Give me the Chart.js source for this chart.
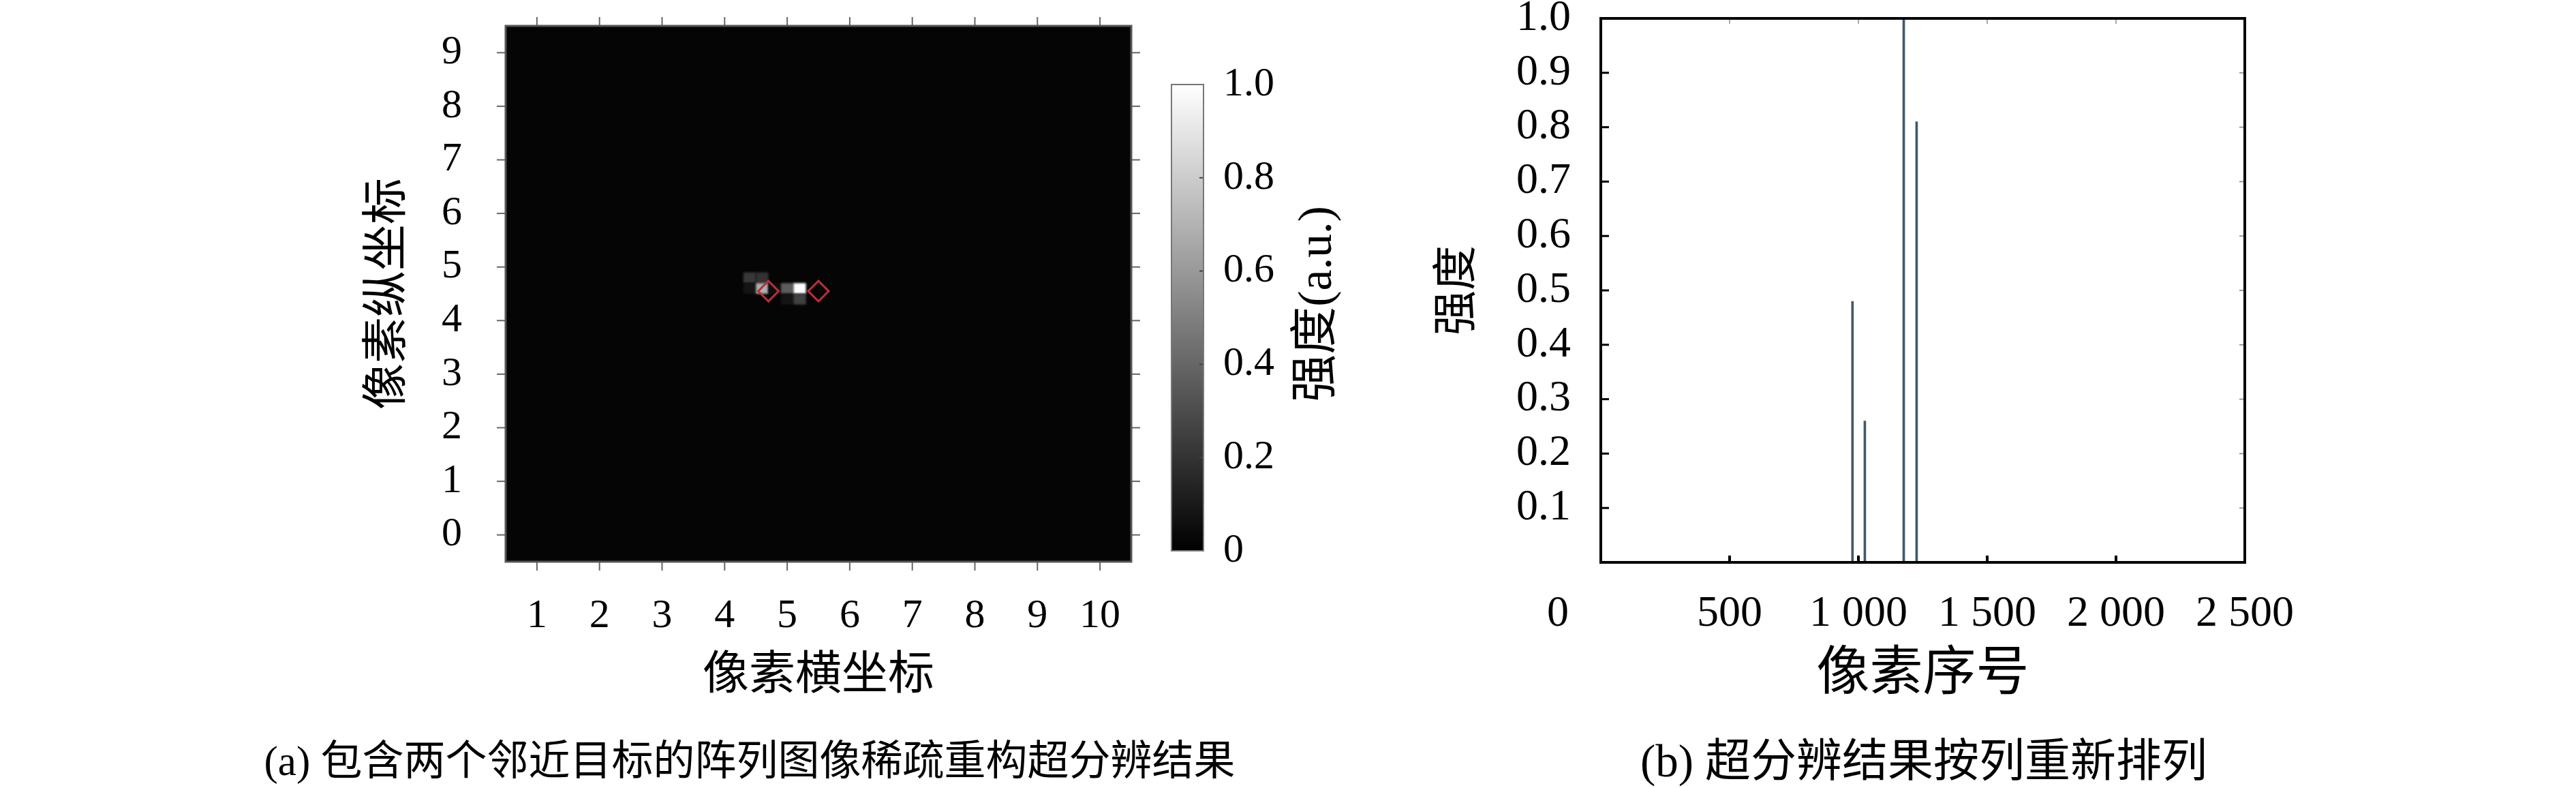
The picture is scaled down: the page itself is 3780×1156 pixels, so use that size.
<!DOCTYPE html>
<html>
<head>
<meta charset="utf-8">
<script src="https://cdn.jsdelivr.net/npm/chart.js@4.4.1/dist/chart.umd.min.js"></script>
<style>
  html, body { margin: 0; padding: 0; background: #fff; }
  body { width: 3780px; height: 1156px; position: relative; overflow: hidden;
         font-family: "Liberation Serif", "Noto Sans CJK SC", serif; }
  canvas { position: absolute; top: 0; }
  .caption { position: absolute; line-height: 1; white-space: nowrap;
             transform: translateX(-50%); color: #000; }
</style>
</head>
<body>
<canvas id="mapChart" width="1200" height="1060" style="left:500px"></canvas>
<canvas id="barChart" width="350" height="1060" style="left:1700px"></canvas>
<canvas id="seqChart" width="1350" height="1060" style="left:2050px"></canvas>
<div class="caption" style="left:1100px;top:1086px;font-size:61px">(a) 包含两个邻近目标的阵列图像稀疏重构超分辨结果</div>
<div class="caption" style="left:2823px;top:1083px;font-size:67px">(b) 超分辨结果按列重新排列</div>

<script>
const FONT = '"Liberation Serif", "Noto Sans CJK SC", serif';

// (a) reconstructed image: 50 x 50 cells over the 10 x 10 pixel array, zero elsewhere
const mapXTicks = [1, 2, 3, 4, 5, 6, 7, 8, 9, 10];
const mapYTicks = [0, 1, 2, 3, 4, 5, 6, 7, 8, 9];
const cellSize = 0.2;
const cellX = [4.4, 4.6, 4.4, 4.6, 4.8, 5.0, 5.2, 5.0, 5.2];
const cellY = [4.8, 4.8, 4.6, 4.6, 4.6, 4.6, 4.6, 4.4, 4.4];
const cellValue = [0.22, 0.2, 0.08, 0.68, 0.05, 0.36, 1.0, 0.08, 0.25];
const targetX = [4.7, 5.5];
const targetY = [4.55, 4.55];

// colour bar
const barTicks = [0, 0.2, 0.4, 0.6, 0.8, 1.0];
const barTickLabels = ['0', '0.2', '0.4', '0.6', '0.8', '1.0'];

// (b) intensities sorted by pixel index
const pixelIndex = [977, 1025, 1176, 1226];
const intensity = [0.48, 0.26, 1.0, 0.81];
const seqTicks = [0, 500, 1000, 1500, 2000, 2500];
const seqTickLabels = ['', '500', '1 000', '1 500', '2 000', '2 500'];
const intensityTicks = [0.1, 0.2, 0.3, 0.4, 0.5, 0.6, 0.7, 0.8, 0.9, 1.0];
const intensityTickLabels = ['0.1', '0.2', '0.3', '0.4', '0.5', '0.6', '0.7', '0.8', '0.9', '1.0'];

function grey(v) {
    const g = Math.round(v * 255);
    return `rgb(${g},${g},${g})`;
}

function fixBox(size) {
    return s => {
        if (s.isHorizontal()) s.height = size; else s.width = size;
        s.paddingTop = s.paddingBottom = s.paddingLeft = s.paddingRight = 0;
    };
}

function frameWithTicks(frame, sides) {
    return {
        id: 'frameWithTicks',
        afterDraw(chart) {
            const { ctx, chartArea: a, scales } = chart;
            ctx.save();
            sides.forEach(s => {
                const scale = scales[s.axis];
                ctx.strokeStyle = s.color;
                ctx.lineWidth = s.width;
                scale.ticks.forEach(t => {
                    if (t.value <= scale.min || t.value >= scale.max) return;
                    const p = scale.getPixelForValue(t.value);
                    ctx.beginPath();
                    if (s.side === 'bottom') { ctx.moveTo(p, a.bottom); ctx.lineTo(p, a.bottom + s.len); }
                    if (s.side === 'top') { ctx.moveTo(p, a.top); ctx.lineTo(p, a.top - s.len); }
                    if (s.side === 'left') { ctx.moveTo(a.left, p); ctx.lineTo(a.left - s.len, p); }
                    if (s.side === 'right') { ctx.moveTo(a.right, p); ctx.lineTo(a.right + s.len, p); }
                    ctx.stroke();
                });
            });
            ctx.strokeStyle = frame.color;
            ctx.lineWidth = frame.width;
            ctx.strokeRect(a.left, a.top, a.width, a.height);
            ctx.restore();
        }
    };
}

const mapCells = {
    id: 'mapCells',
    beforeDatasetsDraw(chart) {
        const { ctx, chartArea: a, scales: { x, y } } = chart;
        ctx.save();
        ctx.fillStyle = grey(0.02);
        ctx.fillRect(a.left, a.top, a.width, a.height);
        ctx.beginPath();
        ctx.rect(a.left, a.top, a.width, a.height);
        ctx.clip();
        ctx.filter = 'blur(1.5px)';
        cellX.forEach((cx, i) => {
            const x0 = x.getPixelForValue(cx - cellSize / 2);
            const x1 = x.getPixelForValue(cx + cellSize / 2);
            const y0 = y.getPixelForValue(cellY[i] + cellSize / 2);
            const y1 = y.getPixelForValue(cellY[i] - cellSize / 2);
            ctx.fillStyle = grey(cellValue[i]);
            ctx.fillRect(x0, y0, x1 - x0, y1 - y0);
        });
        ctx.restore();
    }
};

const tickFont = size => ({ family: FONT, size: size, lineHeight: 1.2 });
const titleFont = size => ({ family: FONT, size: size, lineHeight: 1.2 });

// ---- (a) heat map ----
new Chart(document.getElementById('mapChart'), {
    type: 'scatter',
    data: {
        datasets: [{
            data: targetX.map((x, i) => ({ x: x, y: targetY[i] })),
            pointStyle: 'rectRot',
            radius: 15,
            borderWidth: 3,
            borderColor: '#b8303a',
            backgroundColor: 'rgba(0,0,0,0)'
        }]
    },
    options: {
        responsive: false,
        animation: false,
        layout: { padding: { top: 38, right: 40, left: 0, bottom: 0 } },
        plugins: { legend: { display: false }, tooltip: { enabled: false } },
        scales: {
            x: {
                type: 'linear', min: 0.5, max: 10.5,
                grid: { display: false, drawTicks: false },
                border: { display: false },
                afterBuildTicks: s => { s.ticks = mapXTicks.map(v => ({ value: v })); },
                afterFit: fixBox(236),
                ticks: { autoSkip: false, maxRotation: 0, padding: 44, color: '#000',
                         font: tickFont(60), callback: (v, i) => String(mapXTicks[i]) },
                title: { display: true, text: '像素横坐标', color: '#000', font: titleFont(68),
                         padding: { top: 0, bottom: 26 } }
            },
            y: {
                type: 'linear', min: -0.5, max: 9.5,
                grid: { display: false, drawTicks: false },
                border: { display: false },
                afterBuildTicks: s => { s.ticks = mapYTicks.map(v => ({ value: v })); },
                afterFit: fixBox(242),
                ticks: { autoSkip: false, padding: 64, color: '#000',
                         font: tickFont(60), callback: (v, i) => String(mapYTicks[i]) },
                title: { display: true, text: '像素纵坐标', color: '#000', font: titleFont(68),
                         padding: { top: 30, bottom: 0 } }
            }
        }
    },
    plugins: [
        mapCells,
        frameWithTicks({ color: '#555', width: 3 }, [
            { axis: 'x', side: 'bottom', len: 13, color: '#666', width: 2 },
            { axis: 'x', side: 'top', len: 13, color: '#666', width: 2 },
            { axis: 'y', side: 'left', len: 13, color: '#666', width: 2 },
            { axis: 'y', side: 'right', len: 13, color: '#666', width: 2 }
        ])
    ]
});

// ---- colour bar ----
const barTitle = {
    id: 'barTitle',
    afterDraw(chart) {
        const ctx = chart.ctx;
        ctx.save();
        ctx.translate(chart.chartArea.right + 169, 446);
        ctx.rotate(-Math.PI / 2);
        ctx.font = `70px ${FONT}`;
        ctx.fillStyle = '#000';
        ctx.textAlign = 'center';
        ctx.textBaseline = 'middle';
        ctx.fillText('强度(a.u.)', 0, 0);
        ctx.restore();
    }
};

new Chart(document.getElementById('barChart'), {
    type: 'bar',
    data: {
        labels: ['强度'],
        datasets: [{
            data: [[0, 1]],
            barPercentage: 1,
            categoryPercentage: 1,
            backgroundColor: c => {
                const a = c.chart.chartArea;
                if (!a) return '#888';
                const g = c.chart.ctx.createLinearGradient(0, a.bottom, 0, a.top);
                g.addColorStop(0, '#000');
                g.addColorStop(1, '#fff');
                return g;
            }
        }]
    },
    options: {
        responsive: false,
        animation: false,
        layout: { padding: { top: 124, bottom: 252, left: 19, right: 0 } },
        plugins: { legend: { display: false }, tooltip: { enabled: false } },
        scales: {
            x: { display: false },
            y: {
                position: 'right', min: 0, max: 1,
                grid: { display: false, drawTicks: false },
                border: { display: false },
                afterBuildTicks: s => { s.ticks = barTicks.map(v => ({ value: v })); },
                afterFit: fixBox(284),
                ticks: { autoSkip: false, padding: 29, color: '#000',
                         font: tickFont(60), callback: (v, i) => barTickLabels[i] }
            }
        }
    },
    plugins: [
        frameWithTicks({ color: '#777', width: 2 }, [
            { axis: 'y', side: 'right', len: -6, color: '#444', width: 2 }
        ]),
        barTitle
    ]
});

// ---- (b) re-ordered intensities ----
const originLabel = {
    id: 'originLabel',
    afterDraw(chart) {
        const { ctx, scales: { x } } = chart;
        ctx.save();
        ctx.font = `64px ${FONT}`;
        ctx.fillStyle = '#000';
        ctx.textAlign = 'center';
        ctx.textBaseline = 'middle';
        ctx.fillText('0', x.getPixelForValue(0) - 63, x.top + 76);
        ctx.restore();
    }
};

new Chart(document.getElementById('seqChart'), {
    type: 'bar',
    data: {
        datasets: [{
            data: pixelIndex.map((x, i) => ({ x: x, y: intensity[i] })),
            backgroundColor: '#3f5b6c',
            barThickness: 3
        }]
    },
    options: {
        responsive: false,
        animation: false,
        layout: { padding: { top: 27, right: 106, left: 0, bottom: 0 } },
        plugins: { legend: { display: false }, tooltip: { enabled: false } },
        scales: {
            x: {
                type: 'linear', min: 0, max: 2500, offset: false,
                grid: { display: false, drawTicks: false, offset: false },
                border: { display: false },
                afterBuildTicks: s => { s.ticks = seqTicks.map(v => ({ value: v })); },
                afterFit: fixBox(235),
                ticks: { autoSkip: false, maxRotation: 0, padding: 38, color: '#000',
                         font: tickFont(64), callback: (v, i) => seqTickLabels[i] },
                title: { display: true, text: '像素序号', color: '#000', font: titleFont(78),
                         padding: { top: 0, bottom: 22 } }
            },
            y: {
                type: 'linear', min: 0, max: 1,
                grid: { display: false, drawTicks: false },
                border: { display: false },
                afterBuildTicks: s => { s.ticks = intensityTicks.map(v => ({ value: v })); },
                afterFit: fixBox(299),
                ticks: { autoSkip: false, padding: 44, color: '#000',
                         font: tickFont(64), callback: (v, i) => intensityTickLabels[i] },
                title: { display: true, text: '强度', color: '#000', font: titleFont(66),
                         padding: { top: 51, bottom: 0 } }
            }
        }
    },
    plugins: [
        frameWithTicks({ color: '#000', width: 4 }, [
            { axis: 'x', side: 'bottom', len: -10, color: '#000', width: 4 },
            { axis: 'x', side: 'top', len: -8, color: '#aaa', width: 2 },
            { axis: 'y', side: 'left', len: -12, color: '#000', width: 3 },
            { axis: 'y', side: 'right', len: -8, color: '#999', width: 2 }
        ]),
        originLabel
    ]
});
</script>
</body>
</html>
